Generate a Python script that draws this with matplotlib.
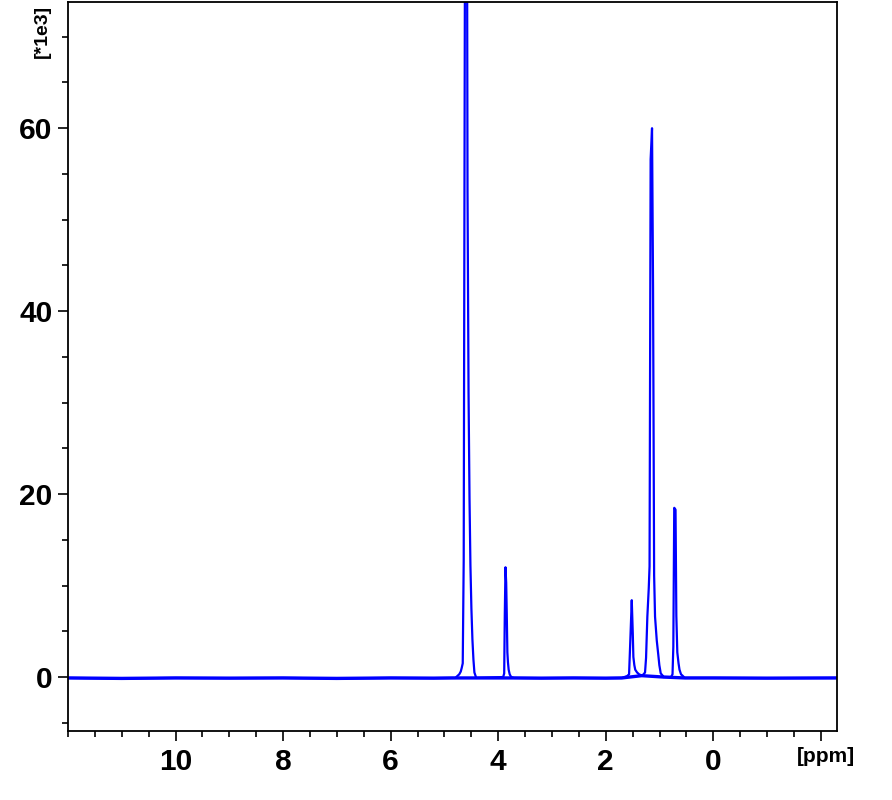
import numpy as np
import matplotlib
matplotlib.use("Agg")
import matplotlib.pyplot as plt
from matplotlib.ticker import MultipleLocator, FixedLocator, FixedFormatter

# baseline anchors (ppm, intensity in 1e3)
base_ppm = [12.0, 11.0, 10.0, 9.0, 8.0, 7.0, 6.0, 5.2, 4.85,
            3.70, 3.2, 2.6, 2.0, 1.70, 1.33, 0.93, 0.53, 0.0, -1.0, -2.3]
base_int = [-0.1, -0.15, -0.1, -0.12, -0.1, -0.15, -0.1, -0.12, -0.1,
            -0.1, -0.12, -0.1, -0.12, -0.1, 0.15, 0.0, -0.1, -0.1, -0.12, -0.1]

# peak profiles
peak_a_ppm = [4.798, 4.761, 4.724, 4.696, 4.678, 4.659, 4.641, 4.607, 4.583,
              4.570, 4.551, 4.533, 4.516, 4.498, 4.479, 4.460, 4.442, 4.408]
peak_a_int = [-0.1, 0.1, 0.3, 0.6, 1.0, 1.5, 12.8, 110.0, 95.0,
              53.1, 31.1, 19.5, 12.2, 7.5, 4.1, 1.9, 0.5, -0.1]

peak_b_ppm = [3.907, 3.888, 3.877, 3.864, 3.851, 3.840, 3.829, 3.818, 3.805, 3.786, 3.758]
peak_b_int = [0.0, 0.4, 6.8, 12.0, 10.3, 6.8, 2.7, 1.6, 0.8, 0.3, 0.0]

peak_c_ppm = [1.603, 1.566, 1.547, 1.516, 1.497, 1.486, 1.468, 1.451, 1.417, 1.380, 1.343]
peak_c_int = [0.1, 0.3, 3.3, 8.4, 4.8, 2.2, 1.3, 0.8, 0.5, 0.3, 0.2]

peak_d_ppm = [1.297, 1.269, 1.250, 1.226, 1.200, 1.185, 1.165, 1.139, 1.120,
              1.100, 1.083, 1.051, 1.022, 1.003, 0.977, 0.934]
peak_d_int = [0.3, 0.5, 2.1, 6.6, 9.7, 12.1, 56.6, 60.0, 42.6,
              11.1, 6.6, 4.0, 2.4, 1.3, 0.4, 0.1]

peak_e_ppm = [0.786, 0.758, 0.743, 0.726, 0.702, 0.687, 0.669, 0.646, 0.628, 0.600, 0.563]
peak_e_int = [0.0, 0.3, 3.3, 18.5, 18.3, 6.7, 2.7, 1.5, 0.8, 0.3, 0.1]

x_ticks = [10, 8, 6, 4, 2, 0, -2]
x_labels = ["10", "8", "6", "4", "2", "0", ""]
y_ticks = [0, 20, 40, 60]

ppm = np.concatenate([base_ppm, peak_a_ppm, peak_b_ppm, peak_c_ppm, peak_d_ppm, peak_e_ppm])
inten = np.concatenate([base_int, peak_a_int, peak_b_int, peak_c_int, peak_d_int, peak_e_int])
order = np.argsort(-ppm)
ppm, inten = ppm[order], inten[order]

plt.rcParams["font.family"] = ["Liberation Sans", "DejaVu Sans"]
plt.rcParams["font.weight"] = "bold"

fig = plt.figure(figsize=(8.92, 8.0), dpi=100)
ax = fig.add_axes([0.0762, 0.08625, 0.8621, 0.91125])

# thicker baseline band, then the spectrum on top
ax.plot(base_ppm, base_int, color="#0000ff", lw=2.4)
ax.plot(ppm, inten, color="#0000ff", lw=1.6)

ax.set_xlim(12.0, -2.3)
ax.set_ylim(-5.9, 73.8)

ax.xaxis.set_major_locator(FixedLocator(x_ticks))
ax.xaxis.set_major_formatter(FixedFormatter(x_labels))
ax.xaxis.set_minor_locator(MultipleLocator(0.5))
ax.yaxis.set_major_locator(FixedLocator(y_ticks))
ax.yaxis.set_minor_locator(MultipleLocator(5))

ax.tick_params(axis="both", which="major", length=7, width=1.2, labelsize=21.5, pad=4)
ax.tick_params(axis="x", which="major", pad=5)
ax.tick_params(axis="both", which="minor", length=4, width=1.2)
for lab in ax.get_xticklabels() + ax.get_yticklabels():
    lab.set_fontweight("bold")

for s in ax.spines.values():
    s.set_linewidth(1.3)

fig.text(42 / 892, 1 - 31.5 / 800, "[*1e3]", rotation=90, ha="center", va="center",
         fontsize=14, fontweight="bold")
fig.text(825.5 / 892, 1 - 756 / 800, "[ppm]", ha="center", va="center",
         fontsize=15, fontweight="bold")

fig.savefig("out.png", dpi=100)
